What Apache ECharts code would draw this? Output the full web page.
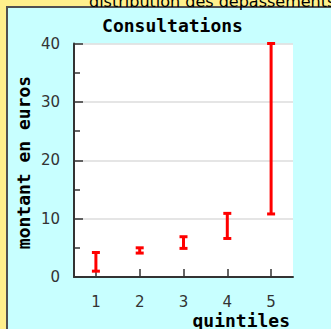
<!DOCTYPE html>
<html>
<head>
<meta charset="utf-8">
<script src="https://cdn.jsdelivr.net/npm/echarts@6/dist/echarts.min.js"></script>
<style>
html,body{margin:0;padding:0;background:#FFF08C;}
#c{width:331px;height:329px;}
</style>
</head>
<body>
<div id="c"></div>
<script>
var categories = ['1', '2', '3', '4', '5'];
var lowValues = [1.0, 4.1, 4.9, 6.6, 10.8];
var highValues = [4.2, 5.0, 6.9, 10.9, 40];
var yTicks = [0, 10, 20, 30, 40];

var data = categories.map(function (c, i) { return [i, lowValues[i], highValues[i]]; });

var chart = echarts.init(document.getElementById('c'), null, { renderer: 'svg' });
var monoBold = 'bold 18px "DejaVu Sans Mono"';
chart.setOption({
  animation: false,
  backgroundColor: '#FFF08C',
  graphic: [
    { type: 'rect', z: -10, shape: { x: 7, y: 7, width: 340, height: 340 },
      style: { fill: '#C8FFFF', stroke: '#505050', lineWidth: 2 } },
    { type: 'text', x: 89, y: 9, style: { text: 'distribution des dépassements', font: '16px "DejaVu Sans"', fill: '#000', verticalAlign: 'bottom', align: 'left' } },
    { type: 'text', x: 172.5, y: 25, style: { text: 'Consultations', font: monoBold, fill: '#000', align: 'center', verticalAlign: 'middle' } },
    { type: 'text', x: 23, y: 162.5, rotation: Math.PI / 2, style: { text: 'montant en euros', font: monoBold, fill: '#000', align: 'center', verticalAlign: 'middle' } },
    { type: 'text', x: 290, y: 320.5, style: { text: 'quintiles', font: monoBold, fill: '#000', align: 'right', verticalAlign: 'middle' } }
  ],
  grid: { left: 74, top: 43.5, right: 38, bottom: 52, show: true, backgroundColor: '#fff', borderWidth: 0 },
  xAxis: {
    type: 'category',
    data: categories,
    boundaryGap: true,
    axisLine: { show: true, lineStyle: { color: '#333', width: 2 } },
    axisTick: { show: true, inside: true, alignWithLabel: true, length: 8, lineStyle: { color: '#333', width: 1.5 } },
    axisLabel: { margin: 17, fontFamily: 'DejaVu Sans', fontSize: 15, lineHeight: 15, color: '#333' },
    splitLine: { show: false }
  },
  yAxis: {
    type: 'value',
    min: 0,
    max: 40,
    interval: 10,
    axisLine: { show: true, lineStyle: { color: '#333', width: 2 } },
    axisTick: { show: true, inside: true, length: 9, lineStyle: { color: '#333', width: 1.5 } },
    minorTick: { show: true, splitNumber: 2, length: 6, lineStyle: { color: '#333', width: 1.5 } },
    axisLabel: { margin: 14, fontFamily: 'DejaVu Sans', fontSize: 15, color: '#333',
      formatter: function (v) { return yTicks.indexOf(v) >= 0 ? String(v) : ''; } },
    splitLine: { show: true, lineStyle: { color: '#dcdcdc', width: 1.5 } }
  },
  series: [{
    type: 'custom',
    data: data,
    encode: { x: 0, y: [1, 2] },
    renderItem: function (params, api) {
      var x = api.value(0);
      var lo = api.coord([x, api.value(1)]);
      var hi = api.coord([x, api.value(2)]);
      var hw = 4;
      var st = { stroke: '#ff0000', lineWidth: 3 };
      return {
        type: 'group',
        children: [
          { type: 'line', shape: { x1: lo[0], y1: lo[1], x2: hi[0], y2: hi[1] }, style: st },
          { type: 'line', shape: { x1: lo[0] - hw, y1: lo[1], x2: lo[0] + hw, y2: lo[1] }, style: st },
          { type: 'line', shape: { x1: hi[0] - hw, y1: hi[1], x2: hi[0] + hw, y2: hi[1] }, style: st }
        ]
      };
    }
  }]
});
</script>
</body>
</html>
